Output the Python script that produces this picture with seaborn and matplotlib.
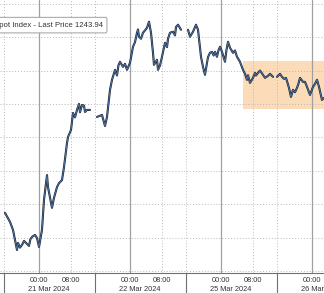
import numpy as np
import pandas as pd
import matplotlib
matplotlib.use("Agg")
import matplotlib.pyplot as plt
import matplotlib.transforms as mtransforms
from matplotlib.patches import Rectangle
import seaborn as sns

# ---- data (trading-time hours on a compressed axis, price) ----
s1_hours = [1.25, 2.5, 3.25, 4.25, 4.5, 5.0, 5.5, 6.0, 6.75, 7.25, 7.6, 8.0, 8.75, 9.25, 9.75,
            10.5, 11.0, 11.75, 12.0, 13.0, 13.5, 14.25, 14.75, 15.5, 16.0, 16.75, 17.0, 17.75,
            18.25, 18.75, 19.25, 19.75, 20.0, 20.5, 21.0, 21.25, 21.75, 22.5]
s1_price = [1207.4, 1204.7, 1202.3, 1196.3, 1198.4, 1197.0, 1197.8, 1199.0, 1198.1, 1197.5,
            1199.5, 1200.2, 1200.8, 1199.9, 1197.2, 1202.3, 1211.3, 1218.7, 1215.1, 1208.9,
            1211.9, 1215.1, 1216.3, 1217.2, 1221.1, 1228.3, 1230.1, 1232.2, 1237.3, 1236.0,
            1238.2, 1240.0, 1237.5, 1239.7, 1239.5, 1237.6, 1238.2, 1238.2]
s2_hours = [24.25, 25.5, 26.25, 26.75, 27.5, 28.0, 28.75, 29.25, 29.6, 30.0, 30.75, 31.25,
            31.75, 32.5, 33.25, 33.75, 34.25, 34.5, 34.75, 35.25, 35.75, 36.25, 36.75, 37.25,
            37.75, 38.25, 38.5, 39.25, 39.5, 40.0, 40.5, 41.25, 41.75, 42.0, 42.5, 43.25, 43.75,
            44.0, 44.5, 45.25]
s2_price = [1236.1, 1236.7, 1233.4, 1236.1, 1244.2, 1247.2, 1250.2, 1248.5, 1251.5, 1252.6,
            1251.1, 1252.0, 1250.2, 1252.3, 1257.1, 1258.5, 1261.3, 1262.3, 1260.1, 1259.5,
            1261.3, 1262.0, 1262.8, 1264.6, 1261.3, 1255.3, 1251.7, 1253.2, 1250.2, 1251.5,
            1254.1, 1258.3, 1257.0, 1259.5, 1261.3, 1261.6, 1260.5, 1263.0, 1263.7, 1262.2]
s3_hours = [47.0, 47.5, 48.25, 49.0, 49.5, 50.25, 50.75, 51.25, 51.75, 52.0, 52.5, 53.0, 53.4,
            53.75, 54.25, 54.6, 55.0, 55.5, 56.25, 56.6, 57.0, 57.5, 58.25, 58.75, 59.25, 60.0,
            60.75, 61.25, 61.75, 62.0, 62.5, 63.25, 63.75, 64.0, 64.5, 65.0, 65.75, 66.25, 67.0,
            67.5, 68.25]
s3_price = [1262.2, 1260.1, 1261.6, 1263.7, 1262.2, 1254.1, 1251.1, 1248.7, 1252.3, 1254.0,
            1255.3, 1255.6, 1254.5, 1255.6, 1254.1, 1256.0, 1257.1, 1255.6, 1252.6, 1256.0,
            1258.6, 1256.8, 1255.3, 1256.0, 1254.1, 1252.6, 1250.2, 1249.0, 1247.2, 1248.6,
            1246.3, 1247.8, 1249.3, 1248.5, 1249.3, 1250.0, 1248.7, 1247.8, 1248.4, 1249.0,
            1248.1]
s4_hours = [69.25, 70.0, 70.5, 71.0, 71.5, 72.25, 72.75, 73.25, 73.75, 74.25, 74.6, 75.0, 75.75,
            76.25, 76.75, 77.5, 78.25, 78.75, 79.25, 79.75, 80.5, 81.0]
s4_price = [1248.1, 1249.0, 1248.1, 1247.5, 1247.8, 1244.8, 1242.1, 1244.2, 1243.5, 1244.8,
            1246.0, 1247.8, 1246.6, 1246.6, 1245.1, 1242.7, 1245.1, 1246.0, 1247.2, 1245.1,
            1241.2, 1241.8]

midnight_pos = [9.75, 32.5, 55.25, 78.0]
morning_pos = [17.75, 40.5, 63.25]
day_breaks = [1.0, 23.75, 46.5, 69.25]
date_labels = ["21 Mar 2024", "22 Mar 2024", "25 Mar 2024", "26 Mar 2024"]
legend_text = "Spot Index - Last Price 1243.94"
highlight_x = (60.75, 84.0)
highlight_y = (1238.5, 1252.9)

frames = []
for sid, (hh, pp) in enumerate([(s1_hours, s1_price), (s2_hours, s2_price),
                                (s3_hours, s3_price), (s4_hours, s4_price)]):
    frames.append(pd.DataFrame({"hours": hh, "price": pp, "session": sid}))
df = pd.concat(frames, ignore_index=True)

sns.set_theme(style="white")
plt.rcParams["font.family"] = ["Liberation Sans", "DejaVu Sans"]

fig = plt.figure(figsize=(3.24, 2.93), dpi=100)
ax = fig.add_axes([0, 20 / 293, 1, 273 / 293])
ax.set_xlim(0, 81)
ax.set_ylim(1189.4, 1271.1)

ax.add_patch(Rectangle((highlight_x[0], highlight_y[0]), highlight_x[1] - highlight_x[0],
                       highlight_y[1] - highlight_y[0], facecolor="#fcdcb8",
                       edgecolor="none", zorder=0))

for y in range(1190, 1271, 10):
    ax.axhline(y, color="#b8b8b8", lw=0.7, ls=(0, (1, 2)), zorder=1)
for x in morning_pos + day_breaks:
    ax.axvline(x, color="#b8b8b8", lw=0.7, ls=(0, (1, 2)), zorder=1)
for x in midnight_pos:
    ax.axvline(x, color="#a0a0a0", lw=0.9, zorder=1)

for sid, g in df.groupby("session"):
    sns.lineplot(data=g, x="hours", y="price", ax=ax, color="#1c2634", lw=1.5,
                 estimator=None, sort=False, legend=False, zorder=3)
    sns.lineplot(data=g, x="hours", y="price", ax=ax, color="#5a86c2", lw=0.5,
                 estimator=None, sort=False, legend=False, zorder=4)

for sp in ["left", "right", "top"]:
    ax.spines[sp].set_visible(False)
ax.spines["bottom"].set_color("#707070")
ax.spines["bottom"].set_linewidth(0.8)
ax.set_yticks([])
ax.set_xlabel("")
ax.set_ylabel("")

ticks = sorted(midnight_pos + morning_pos)
labels = ["00:00" if t in midnight_pos else "08:00" for t in ticks]
ax.set_xticks(ticks)
ax.set_xticklabels(labels, fontsize=5.3, color="#333333")
ax.tick_params(axis="x", length=0, pad=3)
ax.set_xticks(np.arange(1.0, 81, 2.0), minor=True)
ax.tick_params(axis="x", which="minor", length=2, direction="inout", color="#707070", width=0.5)

trans = mtransforms.blended_transform_factory(ax.transData, ax.transAxes)
for x in day_breaks:
    ax.plot([x, x], [0, -0.08], transform=trans, color="#707070", lw=0.8, clip_on=False)
for x, lab in zip(midnight_pos, date_labels):
    ax.text(x + 2.5, -0.062, lab, transform=trans, fontsize=5.3, color="#333333",
            ha="center", va="center", clip_on=False)

ax.text(-0.02, 0.908, legend_text, transform=ax.transAxes, fontsize=5.6, color="#333333",
        ha="left", va="center", zorder=6,
        bbox=dict(boxstyle="round,pad=0.55,rounding_size=0.2", fc="white", ec="#a0a0a0", lw=0.7))

fig.savefig("out.png", dpi=100)
